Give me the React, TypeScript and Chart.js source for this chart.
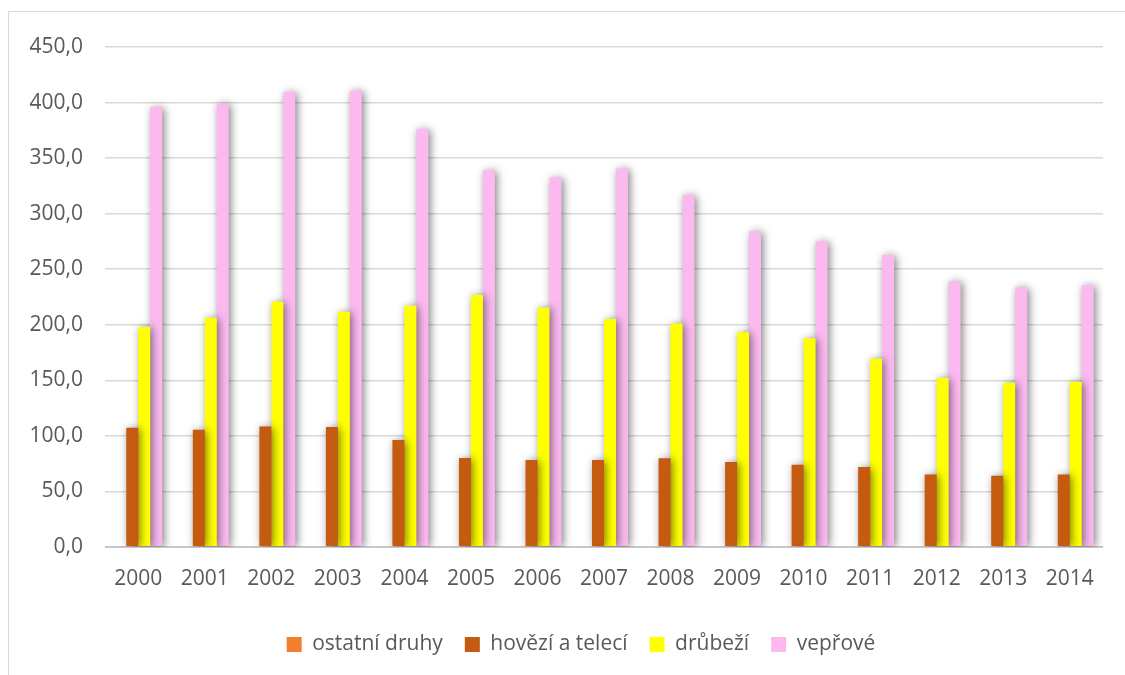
import React, { useEffect, useRef } from "react";
import { Chart, registerables } from "chart.js";

Chart.register(...registerables);

const years = ["2000", "2001", "2002", "2003", "2004", "2005", "2006", "2007", "2008", "2009", "2010", "2011", "2012", "2013", "2014"];
const ostatniDruhy = [0, 0, 0, 0, 0, 0, 0, 0, 0, 0, 0, 0, 0, 0, 0];
const hoveziATeleci = [107.3, 105.5, 108.5, 107.9, 96.3, 80.1, 78.3, 78.3, 79.8, 76.4, 74.0, 71.9, 65.3, 64.1, 65.3];
const drubezi = [197.9, 206.3, 220.7, 211.7, 217.1, 226.7, 215.6, 205.1, 201.2, 193.3, 187.9, 169.4, 152.0, 147.8, 148.7];
const veprove = [395.8, 399.4, 409.6, 410.8, 376.3, 339.1, 332.5, 340.6, 316.9, 284.2, 275.2, 262.9, 239.2, 233.8, 235.6];
const seriesNames = ["ostatní druhy", "hovězí a telecí", "drůbeží", "vepřové"];

const FONT = "'Open Sans', 'DejaVu Sans', sans-serif";
const TEXT = "#595959";

const shadowPlugin = {
  id: "barShadow",
  beforeDatasetsDraw(chart: any) {
    const ctx = chart.ctx;
    ctx.save();
    ctx.shadowColor = "rgba(0,0,0,0.5)";
    ctx.shadowBlur = 8;
    ctx.shadowOffsetX = 2;
    ctx.shadowOffsetY = 1;
  },
  afterDatasetsDraw(chart: any) {
    chart.ctx.restore();
  },
};

const legendShiftPlugin = {
  id: "legendShift",
  afterLayout(chart: any) {
    const lg = chart.legend;
    if (lg) {
      lg.left += 25;
      lg.right += 25;
    }
  },
};

export default function App() {
  const ref = useRef<HTMLCanvasElement | null>(null);
  useEffect(() => {
    if (!ref.current) return;
    const chart = new Chart(ref.current, {
      type: "bar",
      data: {
        labels: years,
        datasets: [
          { label: seriesNames[0], data: ostatniDruhy, backgroundColor: "#F27F30" },
          { label: seriesNames[1], data: hoveziATeleci, backgroundColor: "#C55A11" },
          { label: seriesNames[2], data: drubezi, backgroundColor: "#FFFF00" },
          { label: seriesNames[3], data: veprove, backgroundColor: "#FBB9F0" },
        ],
      },
      options: {
        animation: false,
        responsive: false,
        maintainAspectRatio: false,
        layout: { padding: { left: 0, top: 35, right: 42, bottom: 11 } },
        datasets: { bar: { categoryPercentage: 0.72, barPercentage: 1 } },
        plugins: {
          tooltip: { enabled: false },
          legend: {
            position: "bottom",
            labels: {
              font: { family: FONT, size: 21 },
              color: TEXT,
              boxWidth: 15,
              boxHeight: 15,
              padding: 22,
            },
          },
        },
        scales: {
          x: {
            grid: { display: false, drawTicks: false },
            border: { display: false },
            ticks: { font: { family: FONT, size: 21 }, color: TEXT, padding: 19, maxRotation: 0 },
            afterFit(scale: any) {
              scale.height = 65;
            },
          },
          y: {
            min: 0,
            max: 450,
            grid: {
              color: (c: any) => (c.tick && c.tick.value === 0 ? "#c8c8c8" : "#d9d9d9"),
              lineWidth: (c: any) => (c.tick && c.tick.value === 0 ? 2 : 1.5),
              drawTicks: false,
            },
            border: { display: false },
            ticks: {
              stepSize: 50,
              font: { family: FONT, size: 21 },
              color: TEXT,
              padding: 22,
              callback: (v: any) => Number(v).toFixed(1).replace(".", ","),
            },
            afterFit(scale: any) {
              scale.width = 96;
            },
          },
        },
      },
      plugins: [shadowPlugin, legendShiftPlugin],
    });
    return () => chart.destroy();
  }, []);
  return (
    <div
      style={{
        position: "fixed",
        left: 8,
        top: 11,
        width: 1117,
        height: 664,
        borderTop: "1.5px solid #d9d9d9",
        borderLeft: "1.5px solid #d9d9d9",
        background: "#fff",
        overflow: "hidden",
      }}
    >
      <canvas ref={ref} width={1136} height={664} style={{ display: "block" }} />
    </div>
  );
}
